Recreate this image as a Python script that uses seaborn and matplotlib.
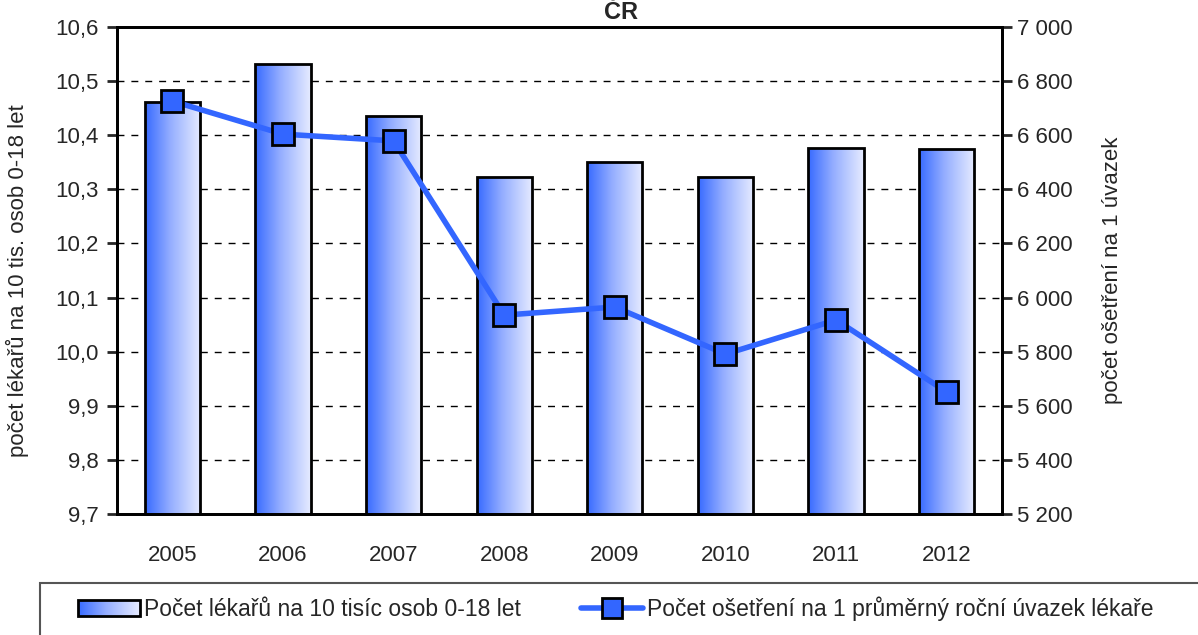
import matplotlib
matplotlib.use('Agg')
import matplotlib.pyplot as plt
import matplotlib.ticker as mticker
from matplotlib.patches import Rectangle
from matplotlib.lines import Line2D
import numpy as np
import seaborn as sns

years = ['2005', '2006', '2007', '2008', '2009', '2010', '2011', '2012']
doctors = [10.461, 10.532, 10.436, 10.323, 10.350, 10.323, 10.376, 10.374]
visits = [6726, 6604, 6579, 5935, 5965, 5791, 5917, 5651]

bar_label = 'Počet lékařů na 10 tisíc osob 0-18 let'
line_label = 'Počet ošetření na 1 průměrný roční úvazek lékaře'

sns.set_style('white')
plt.rcParams['font.family'] = ['Liberation Sans', 'DejaVu Sans']

blue = '#3366ff'
grad = np.array([[0.22, 0.42, 1.00], [0.58, 0.68, 1.00], [0.90, 0.92, 1.00]])
xs = np.linspace(0, 1, 64)
grad_img = np.stack([np.interp(xs, [0, 0.45, 1], grad[:, c]) for c in range(3)], axis=-1)[None, :, :]

fig = plt.figure(figsize=(11.98, 6.35), dpi=100)
ax = fig.add_axes([0.0977, 0.1906, 0.7387, 0.7669])

sns.barplot(x=years, y=doctors, ax=ax, width=0.5, color=blue,
            edgecolor='black', linewidth=2, zorder=3)
ax.set_ylim(9.7, 10.6)
ax.set_xlim(-0.5, len(years) - 0.5)

# gradient fill of the bars
for p in ax.patches:
    x0, y0 = p.get_x(), p.get_y()
    w, h = p.get_width(), p.get_height()
    im = ax.imshow(grad_img, extent=[x0, x0 + w, ax.get_ylim()[0], y0 + h],
                   aspect='auto', zorder=2.5, interpolation='bilinear')
    im.set_clip_path(p)
    p.set_facecolor('none')
ax.set_xlim(-0.5, len(years) - 0.5)
ax.set_ylim(9.7, 10.6)

ax.yaxis.set_major_locator(mticker.MultipleLocator(0.1))
ax.yaxis.set_major_formatter(mticker.FuncFormatter(lambda v, _: f'{v:.1f}'.replace('.', ',')))
ax.grid(axis='y', color='black', linestyle=(0, (5, 5)), linewidth=1)
ax.set_axisbelow(True)

ax.set_xticks(np.arange(-0.5, len(years), 1))
ax.set_xticklabels([])
ax.set_xticks(np.arange(len(years)), minor=True)
ax.set_xticklabels(years, minor=True)
ax.tick_params(axis='x', which='major', direction='out', length=7, width=1.5, colors='black')
ax.tick_params(axis='x', which='minor', length=0, pad=22, labelsize=16)
ax.tick_params(axis='y', direction='out', length=7, width=2, labelsize=16, left=True, pad=6)
ax.set_ylabel('počet lékařů na 10 tis. osob 0-18 let', fontsize=16)
ax.yaxis.set_label_coords(-0.1, 0.48)

for s in ax.spines.values():
    s.set_color('black')
    s.set_linewidth(2)

ax2 = ax.twinx()
sns.lineplot(x=np.arange(len(years)), y=visits, ax=ax2, color=blue, linewidth=4,
             marker='s', markersize=16, markerfacecolor=blue, markeredgecolor='black',
             markeredgewidth=2, zorder=5)
ax2.set_ylim(5200, 7000)
ax2.yaxis.set_major_locator(mticker.MultipleLocator(200))
ax2.yaxis.set_major_formatter(mticker.FuncFormatter(lambda v, _: f'{int(v):,}'.replace(',', ' ')))
ax2.tick_params(axis='y', direction='out', length=7, width=2, labelsize=16, right=True)
ax2.set_ylabel('počet ošetření na 1 úvazek', fontsize=16)
ax2.yaxis.set_label_coords(1.113, 0.5)
ax2.grid(False)
for s in ax2.spines.values():
    s.set_color('black')
    s.set_linewidth(2)

fig.text(0.518, 0.999, 'ČR', ha='center', va='top', fontsize=17, fontweight='bold')

# legend box
fig.patches.append(Rectangle((40 / 1198, -0.1), 1.2, (635 - 583) / 635 + 0.1,
                             transform=fig.transFigure, facecolor='white',
                             edgecolor='#555555', linewidth=1.5))
handles = [Rectangle((0, 0), 1, 1, facecolor='none', edgecolor='black', linewidth=2),
           Line2D([], [], color=blue, linewidth=4, marker='s', markersize=14,
                  markerfacecolor=blue, markeredgecolor='black', markeredgewidth=2)]
leg = fig.legend(handles, [bar_label, line_label], loc='center', ncol=2,
                 bbox_to_anchor=(0.514, 0.041), frameon=False, fontsize=16.5,
                 handlelength=2.7, handletextpad=0.2, columnspacing=2.6)

# gradient inside the legend patch
fig.canvas.draw()
bb = leg.legend_handles[0].get_window_extent().transformed(fig.transFigure.inverted())
lax = fig.add_axes([bb.x0, bb.y0, bb.width, bb.height])
lax.set_zorder(2)
lax.imshow(grad_img, aspect='auto', extent=[0, 1, 0, 1], interpolation='bilinear')
lax.set_axis_off()

fig.savefig('out.png', dpi=100)
